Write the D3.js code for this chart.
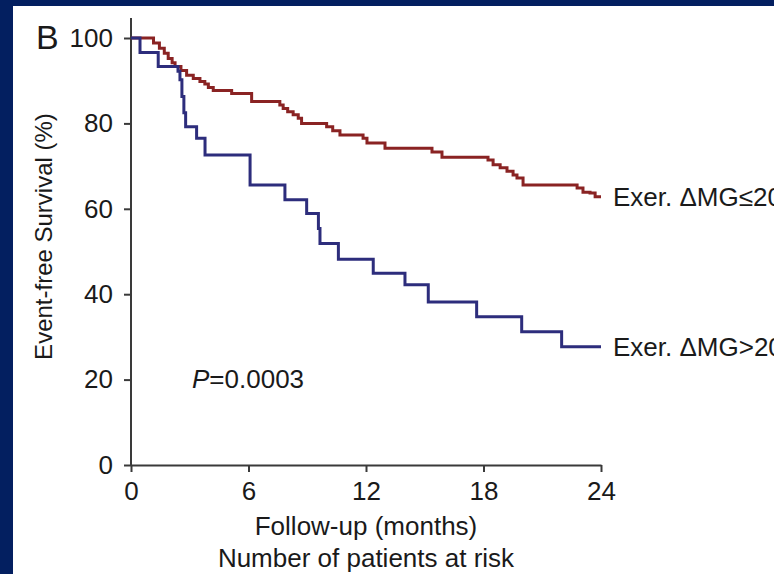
<!DOCTYPE html>
<html>
<head>
<meta charset="utf-8">
<script src="https://cdn.jsdelivr.net/npm/d3@7"></script>
<style>
  html, body { margin: 0; padding: 0; background: #031f60; }
  svg { display: block; }
  text { font-family: "Liberation Sans", Arial, Helvetica, sans-serif; fill: #1a1a1a; }
</style>
</head>
<body>
<div id="chart"></div>
<script>
// Kaplan–Meier event-free survival, two groups by exercise ΔMG
const redTimes = [0, 1.15, 1.45, 1.7, 1.9, 2.1, 2.25, 2.55, 2.84, 3.18, 3.52, 3.77, 3.95, 4.2, 5.14, 6.16, 7.6, 7.77, 8.0, 8.28, 8.54, 8.71, 9.99, 10.3, 10.67, 11.85, 12.05, 12.97, 15.37, 15.88, 18.23, 18.49, 18.85, 19.2, 19.51, 19.71, 20.02, 22.78, 23.08, 23.44, 23.7, 24];
const redSurv  = [100, 98.8, 97.6, 96.4, 95.2, 94.2, 93.3, 92.4, 91.3, 90.5, 89.8, 89.2, 88.4, 87.7, 87.0, 85.1, 84.3, 83.5, 82.7, 82.0, 81.2, 80.0, 79.2, 78.3, 77.3, 76.5, 75.4, 74.2, 73.3, 72.1, 71.4, 70.3, 69.6, 68.8, 67.9, 67.2, 65.6, 64.9, 63.9, 63.7, 62.8, 62.8];

const blueTimes = [0, 0.46, 1.39, 2.4, 2.5, 2.6, 2.7, 2.79, 3.35, 3.78, 6.08, 7.86, 8.97, 9.57, 9.65, 10.59, 12.37, 13.99, 15.18, 17.65, 19.95, 21.99, 24];
const blueSurv  = [100, 96.6, 93.3, 92.2, 90.2, 86.3, 82.5, 79.2, 76.5, 72.6, 65.6, 62.1, 58.9, 55.4, 51.9, 48.2, 44.9, 42.2, 38.2, 34.7, 31.2, 27.7, 27.7];

const xTicks = [0, 6, 12, 18, 24];
const yTicks = [0, 20, 40, 60, 80, 100];

const seriesLabels = ["Exer. \u0394MG\u226420%", "Exer. \u0394MG>20%"];
const seriesColors = ["#8a2323", "#2d2d7c"];

const W = 774, H = 574;
const FONT = 26;

const svg = d3.select("#chart").append("svg")
  .attr("width", W).attr("height", H);

// white panel on navy background
svg.append("rect").attr("x", 13).attr("y", 6).attr("width", W - 13).attr("height", H - 6).attr("fill", "#ffffff");

const x = d3.scaleLinear().domain([0, 24]).range([131, 601]);
const y = d3.scaleLinear().domain([0, 100]).range([465, 38]);

const axisColor = "#3a3a3a";

// y axis
const gy = svg.append("g").attr("transform", `translate(${x(0)},0)`)
  .call(d3.axisLeft(y).tickValues(yTicks).tickSize(7).tickSizeOuter(0).tickPadding(11));
gy.select(".domain").remove();
gy.append("line").attr("x1", 0).attr("x2", 0).attr("y1", y(0)).attr("y2", y(100) - 20)
  .attr("stroke", axisColor).attr("stroke-width", 2);
gy.selectAll(".tick line").attr("stroke", axisColor).attr("stroke-width", 2);
gy.selectAll(".tick text").attr("font-size", FONT).attr("fill", "#1a1a1a")
  .attr("font-family", '"Liberation Sans", Arial, sans-serif');

// x axis
const gx = svg.append("g").attr("transform", `translate(0,${y(0)})`)
  .call(d3.axisBottom(x).tickValues(xTicks).tickSize(7).tickSizeOuter(0).tickPadding(10));
gx.select(".domain").attr("stroke", axisColor).attr("stroke-width", 2);
gx.selectAll(".tick line").attr("stroke", axisColor).attr("stroke-width", 2);
gx.selectAll(".tick text").attr("font-size", FONT).attr("fill", "#1a1a1a")
  .attr("font-family", '"Liberation Sans", Arial, sans-serif');

// survival curves
const line = d3.line().x(d => x(d[0])).y(d => y(d[1])).curve(d3.curveStepAfter);
const series = [
  d3.zip(redTimes, redSurv),
  d3.zip(blueTimes, blueSurv)
];
series.forEach((pts, i) => {
  svg.append("path").datum(pts)
    .attr("d", line)
    .attr("fill", "none")
    .attr("stroke", seriesColors[i])
    .attr("stroke-width", 3)
    .attr("stroke-linejoin", "miter");
  const last = pts[pts.length - 1];
  svg.append("text")
    .attr("x", x(last[0]) + 12)
    .attr("y", y(last[1]))
    .attr("dy", "0.35em")
    .attr("font-size", FONT)
    .text(seriesLabels[i]);
});

// panel letter
svg.append("text").attr("x", 36).attr("y", 49).attr("font-size", 34).text("B");

// axis titles
svg.append("text")
  .attr("transform", `translate(52,${(y(0) + y(100)) / 2 - 15}) rotate(-90)`)
  .attr("text-anchor", "middle")
  .attr("font-size", 24)
  .text("Event-free Survival (%)");

svg.append("text").attr("x", (x(0) + x(24)) / 2).attr("y", 535)
  .attr("text-anchor", "middle").attr("font-size", FONT).text("Follow-up (months)");

svg.append("text").attr("x", (x(0) + x(24)) / 2).attr("y", 567)
  .attr("text-anchor", "middle").attr("font-size", FONT).text("Number of patients at risk");

// log-rank p-value
const pText = svg.append("text").attr("x", 192).attr("y", 388).attr("font-size", FONT);
pText.append("tspan").attr("font-style", "italic").text("P");
pText.append("tspan").text("=0.0003");
</script>
</body>
</html>
